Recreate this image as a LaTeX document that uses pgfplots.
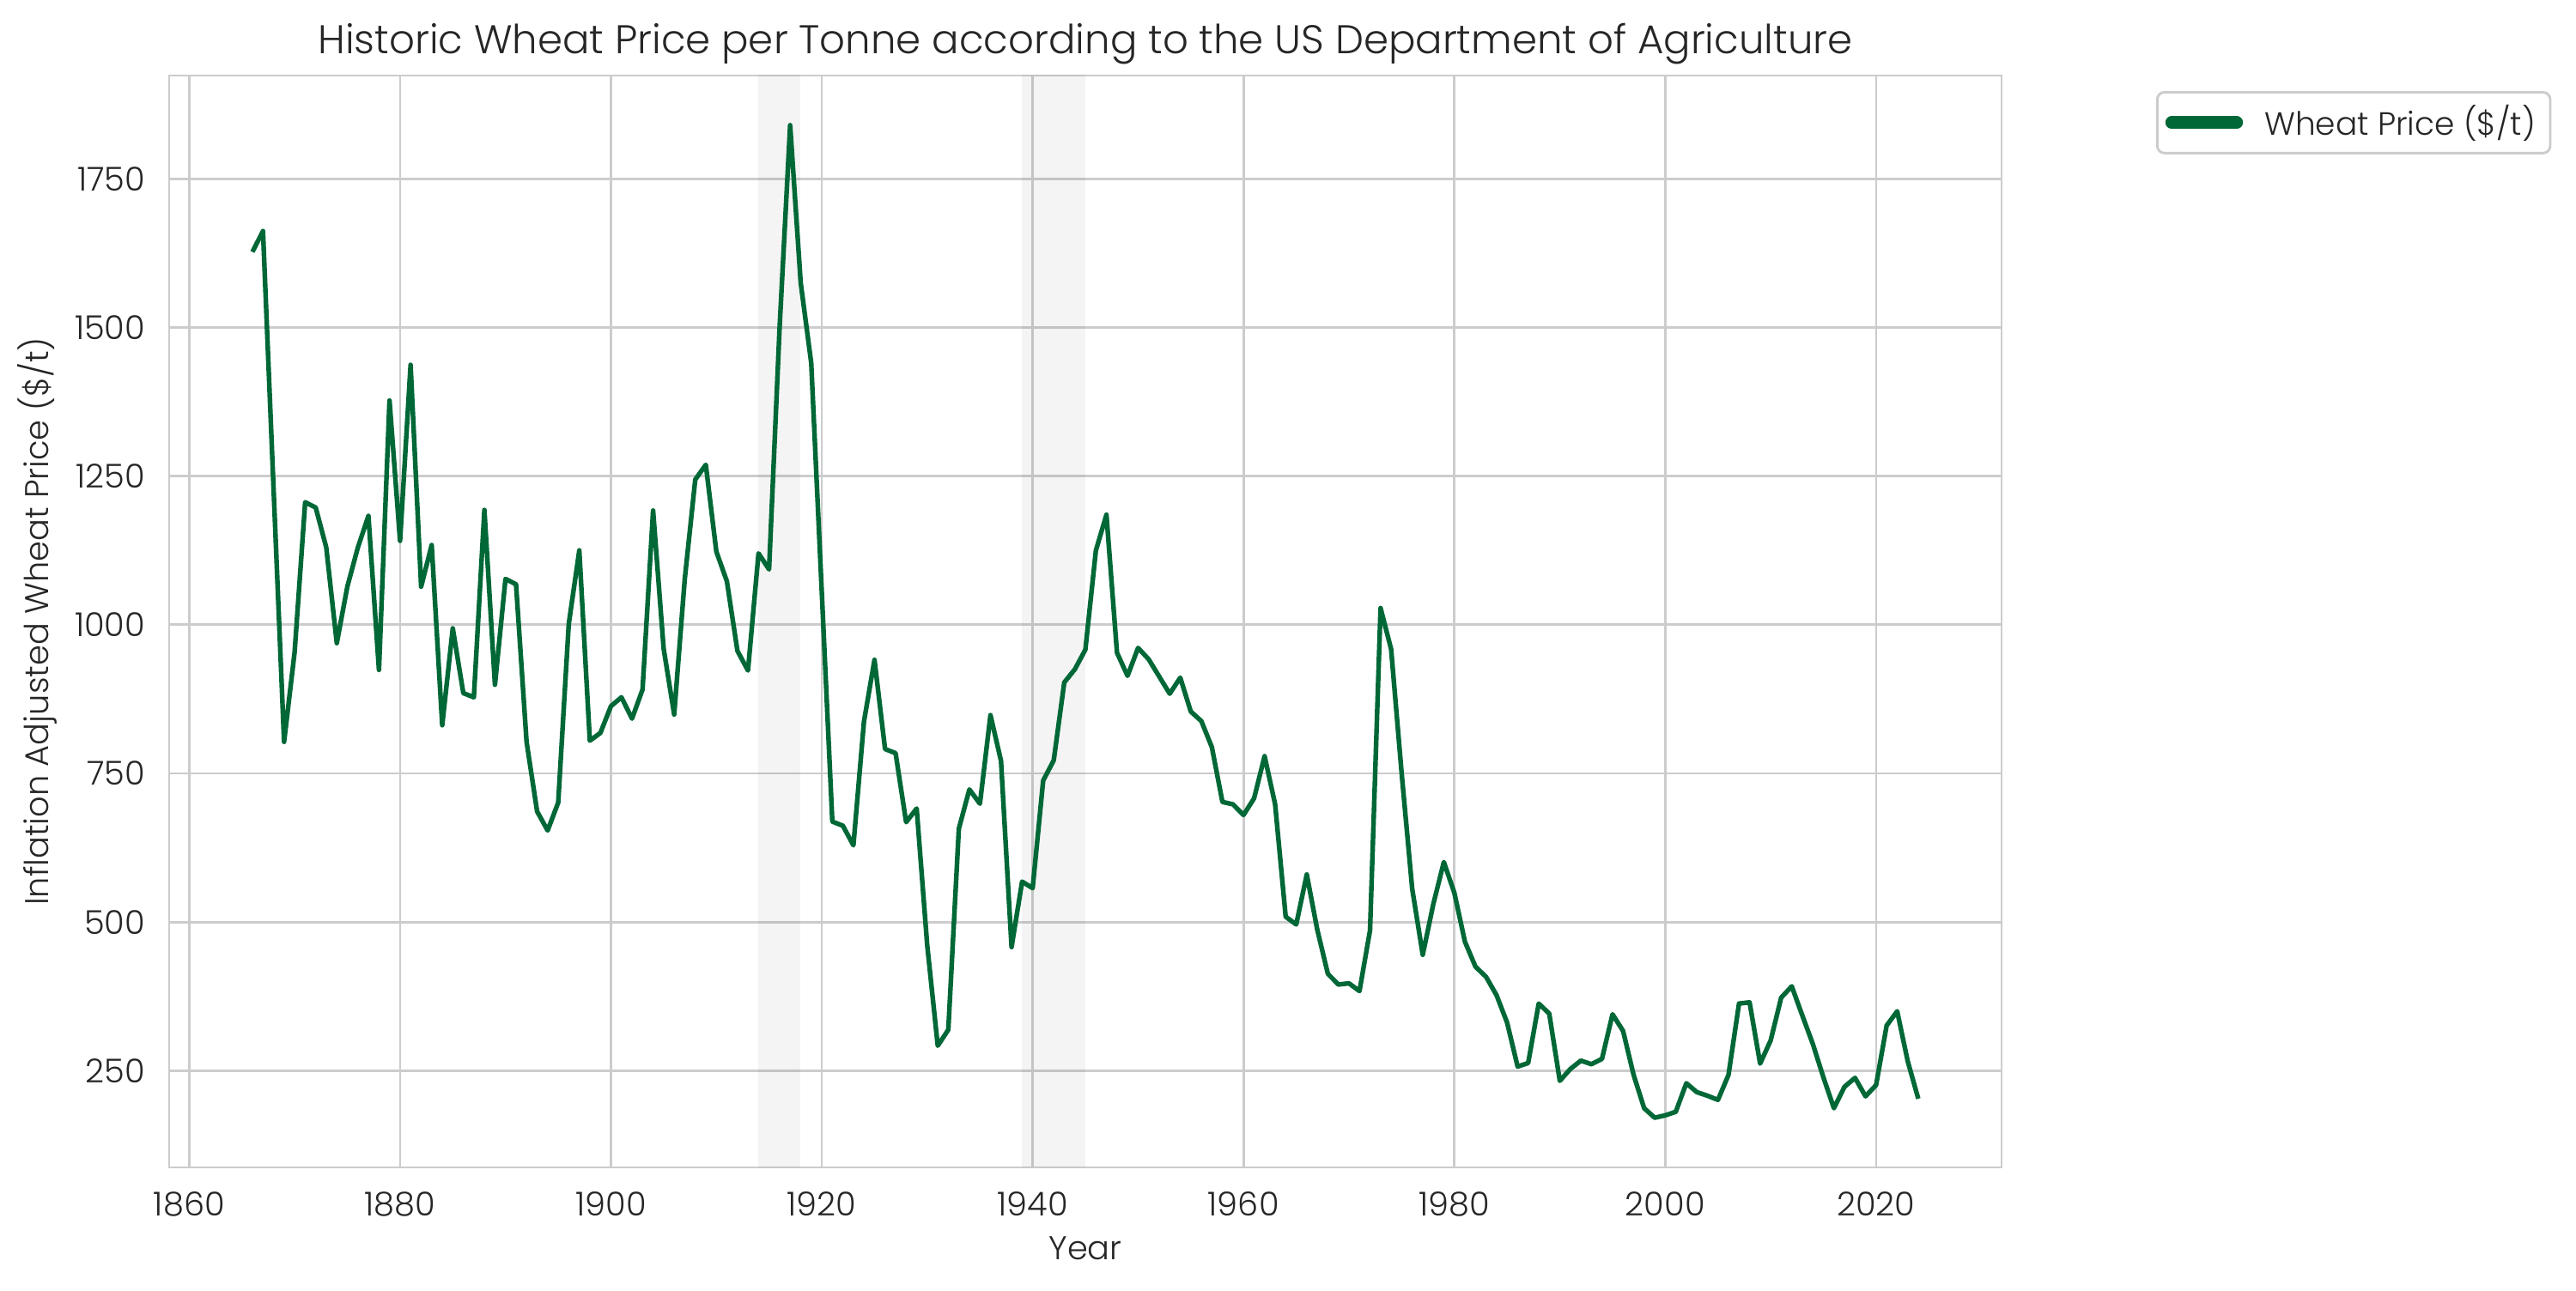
\documentclass[border=0pt]{standalone}
\usepackage{fontspec}
\setmainfont{Poppins Light}
\usepackage{pgfplots}
\usepackage{pgfplotstable}
\pgfplotsset{compat=1.18}
\definecolor{wheat}{RGB}{0,104,55}
\definecolor{gridc}{RGB}{204,204,204}
\definecolor{txt}{RGB}{38,38,38}
\pgfplotstableread{
year price
1866 1627
1867 1662
1868 1230
1869 803
1870 954
1871 1206
1872 1197
1873 1130
1874 969
1875 1064
1876 1130
1877 1183
1878 924
1879 1377
1880 1141
1881 1437
1882 1064
1883 1134
1884 831
1885 994
1886 885
1887 878
1888 1193
1889 899
1890 1077
1891 1068
1892 803
1893 686
1894 654
1895 701
1896 1001
1897 1125
1898 805
1899 818
1900 863
1901 878
1902 842
1903 891
1904 1192
1905 960
1906 849
1907 1076
1908 1244
1909 1269
1910 1123
1911 1073
1912 956
1913 923
1914 1120
1915 1093
1916 1500
1917 1840
1918 1575
1919 1440
1920 1055
1921 669
1922 662
1923 629
1924 837
1925 941
1926 791
1927 784
1928 668
1929 691
1930 461
1931 292
1932 319
1933 657
1934 723
1935 699
1936 848
1937 771
1938 458
1939 568
1940 557
1941 738
1942 772
1943 903
1944 925
1945 958
1946 1125
1947 1185
1948 953
1949 914
1950 961
1951 942
1952 913
1953 884
1954 911
1955 854
1956 838
1957 794
1958 702
1959 698
1960 680
1961 708
1962 779
1963 698
1964 509
1965 496
1966 580
1967 487
1968 413
1969 395
1970 397
1971 384
1972 486
1973 1028
1974 959
1975 750
1976 556
1977 445
1978 530
1979 601
1980 549
1981 467
1982 425
1983 408
1984 377
1985 331
1986 257
1987 263
1988 363
1989 346
1990 233
1991 253
1992 267
1993 261
1994 270
1995 345
1996 317
1997 243
1998 187
1999 171
2000 175
2001 181
2002 229
2003 214
2004 208
2005 201
2006 243
2007 363
2008 365
2009 262
2010 301
2011 373
2012 392
2013 343
2014 295
2015 239
2016 187
2017 223
2018 238
2019 207
2020 226
2021 326
2022 350
2023 266
2024 203
}\wheatdata
\begin{document}
\begin{tikzpicture}
\path[use as bounding box] (0,0) rectangle (720pt,360.96pt);
\begin{axis}[
  at={(47.28pt,34.56pt)}, anchor=south west,
  scale only axis, width=512.16pt, height=305.28pt,
  xmin=1858.1, xmax=2031.9, ymin=87.5, ymax=1923.5,
  xtick={1860,1880,...,2020}, ytick={250,500,...,1750},
  grid=major, major grid style={gridc, line width=0.65pt},
  axis line style={gridc, line width=0.7pt},
  major tick length=0pt,
  tick label style={font=\fontsize{9.2}{11}\selectfont, text=txt, inner sep=0pt},
  xticklabel shift=6.7pt, yticklabel shift=6.5pt,
  /pgf/number format/1000 sep={}, /pgf/number format/assume math mode=true,
  title={Historic Wheat Price per Tonne according to the US Department of Agriculture},
  title style={at={(axis description cs:0.5,1.0)}, anchor=base, yshift=0pt, font=\fontsize{11.2}{13}\selectfont, text=txt, inner sep=0pt},
  xlabel={Year},
  ylabel={Inflation Adjusted Wheat Price (\$/t)},
  xlabel style={at={(axis description cs:0.5,-0.0842)}, anchor=base, font=\fontsize{9.2}{11}\selectfont, text=txt, inner sep=0pt},
  ylabel style={at={(axis description cs:-0.0658,0.5)}, anchor=base, font=\fontsize{9.2}{11}\selectfont, text=txt, inner sep=0pt},
  legend style={at={(axis description cs:1.0843,0.9858)}, anchor=north west, draw=gridc, line width=0.7pt, rounded corners=2pt, fill=white, inner sep=0pt, column sep=0pt, nodes={inner sep=0pt}, font=\fontsize{9}{11}\selectfont, text=txt},
  legend image code/.code={
    \path[draw=none, fill=none] (0pt,-8.5pt) rectangle (30pt,8.5pt);
    \draw[#1, line width=3.6pt, line cap=round] (4.05pt,0pt) -- (22.15pt,0pt);
  },
]
\addplot[fill=black, fill opacity=0.045, draw=none, forget plot] coordinates {(1914,0) (1918,0) (1918,2000) (1914,2000)};
\addplot[fill=black, fill opacity=0.045, draw=none, forget plot] coordinates {(1939,0) (1945,0) (1945,2000) (1939,2000)};
\addplot[wheat, line width=1.3pt, line join=round] table[x=year, y=price] {\wheatdata};
\addlegendentry{Wheat Price (\$/t)\hspace*{4.1pt}}
\end{axis}
\end{tikzpicture}
\end{document}
